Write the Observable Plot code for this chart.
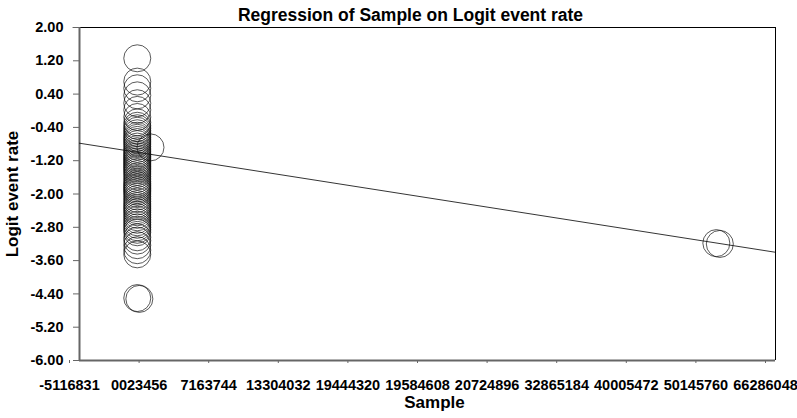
<!DOCTYPE html>
<html>
<head>
<meta charset="utf-8">
<script src="https://cdn.jsdelivr.net/npm/d3@7"></script>
<script src="https://cdn.jsdelivr.net/npm/@observablehq/plot@0.6"></script>
<style>
  html, body { margin: 0; padding: 0; background: #fff; }
  #chart svg { display: block; }
</style>
</head>
<body>
<div id="chart"></div>
<script>
// Axis tick labels
const xTickLabels = ["-5116831", "0023456", "7163744", "13304032", "19444320", "19584608", "20724896", "32865184", "40005472", "50145760", "66286048"];
const xTickPositions = [0, 1, 2, 3, 4, 5, 6, 7, 8, 9, 10];
const yTicks = [2.00, 1.20, 0.40, -0.40, -1.20, -2.00, -2.80, -3.60, -4.40, -5.20, -6.00];

// Studies: sample (in axis tick units) and logit event rate
const sampleX = [
  0.83, 0.83, 0.83, 0.83, 0.83, 0.83, 0.83, 0.83, 0.83, 0.83,
  0.83, 0.83, 0.83, 0.83, 0.83, 0.83, 0.83, 0.83, 0.83, 0.83,
  0.83, 0.83, 0.83, 0.83, 0.83, 0.83, 0.83, 0.83, 0.83, 0.83,
  0.83, 0.83, 0.83, 0.83, 0.83, 0.83, 0.83, 0.83, 0.83, 0.83,
  0.83, 0.83, 0.83, 0.83, 0.83, 0.83, 0.83, 0.83, 0.83, 0.83,
  0.83, 0.83, 0.83, 0.83, 0.83, 0.83, 0.83, 0.83, 0.83, 0.83,
  0.83, 0.83, 0.83, 0.83,
  0.83, 0.86, 1.02, 9.15, 9.20
];
const logitY = [
  1.26, 0.70, 0.54, 0.37, 0.18, 0.02, -0.15, -0.28, -0.36, -0.42,
  -0.48, -0.54, -0.60, -0.65, -0.70, -0.75, -0.80, -0.86, -0.92, -0.97,
  -1.02, -1.06, -1.10, -1.14, -1.18, -1.22, -1.26, -1.30, -1.34, -1.38,
  -1.42, -1.47, -1.52, -1.58, -1.64, -1.70, -1.75, -1.79, -1.83, -1.87,
  -1.91, -1.95, -2.00, -2.06, -2.12, -2.18, -2.24, -2.29, -2.34, -2.39,
  -2.44, -2.50, -2.56, -2.62, -2.68, -2.74, -2.80, -2.86, -2.92, -3.04,
  -3.12, -3.23, -3.35, -3.45,
  -4.50, -4.52, -0.88, -3.18, -3.20
];

// Regression line end points
const lineX = [0, 10];
const lineY = [-0.78, -3.40];

const points = sampleX.map((x, i) => ({x, y: logitY[i]}));
const regression = lineX.map((x, i) => ({x, y: lineY[i]}));

const font = "'Liberation Sans', Arial, Helvetica, sans-serif";

const chart = Plot.plot({
  width: 797,
  height: 418,
  marginLeft: 79,
  marginRight: 22,
  marginTop: 27,
  marginBottom: 58,
  style: {fontFamily: font, fontWeight: "bold", fontSize: "14.5px", color: "#000", background: "#fff"},
  x: {domain: [0, 10], label: null},
  y: {domain: [-6, 2], label: null},
  marks: [
    // frame top & right
    Plot.ruleY([2], {x1: -0.09, x2: 10, stroke: "#000", strokeWidth: 1}),
    Plot.ruleX([10], {y1: -6, y2: 2, stroke: "#000", strokeWidth: 1}),
    // left & bottom axes lines
    Plot.ruleX([0], {y1: -6, y2: 2, stroke: "#666", strokeWidth: 2}),
    Plot.ruleY([-6], {stroke: "#666", strokeWidth: 2}),
    Plot.axisY({
      ticks: yTicks,
      tickFormat: d => d.toFixed(2),
      tickSize: 6,
      tickPadding: 10,
      stroke: "#666",
      fontSize: 14.5,
      fontWeight: "bold",
      label: null
    }),
    Plot.axisX({
      ticks: xTickPositions,
      tickFormat: i => xTickLabels[i],
      tickSize: 3,
      tickPadding: 16,
      dx: -10,
      stroke: "#666",
      fontSize: 14.5,
      fontWeight: "bold",
      label: null
    }),
    Plot.line(regression, {x: "x", y: "y", stroke: "#000", strokeWidth: 0.8}),
    Plot.dot(points, {x: "x", y: "y", r: 13.5, stroke: "#111", strokeWidth: 0.7, fill: "none"}),
    // Title
    Plot.text(["Regression of Sample on Logit event rate"], {
      frameAnchor: "top", dy: -19, dx: -17, fontSize: 17.5, fontWeight: "bold", fill: "#000"
    }),
    // Axis titles
    Plot.text(["Sample"], {
      frameAnchor: "bottom", dy: 47, dx: 7, fontSize: 17, fontWeight: "bold", fill: "#000"
    }),
    Plot.text(["Logit event rate"], {
      frameAnchor: "left", textAnchor: "middle", dx: -67, rotate: -90, fontSize: 17, fontWeight: "bold", fill: "#000"
    })
  ]
});

document.getElementById("chart").appendChild(chart);
</script>
</body>
</html>
